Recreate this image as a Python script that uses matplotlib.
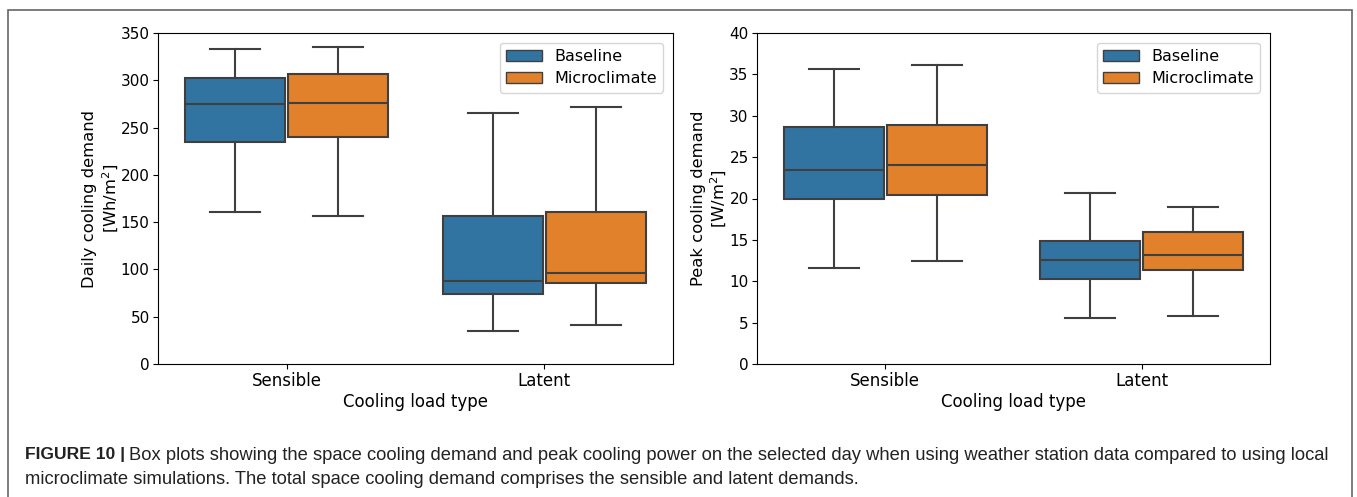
import matplotlib.pyplot as plt
from matplotlib.patches import Rectangle

categories = ["Sensible", "Latent"]
series = ["Baseline", "Microclimate"]
colors = ["#3274a1", "#e1812c"]

# whisker low, Q1, median, Q3, whisker high  (per series, per category)
daily = {
    "Baseline":     [(161, 235, 275, 302, 333), (35, 74, 88, 156, 265)],
    "Microclimate": [(157, 240, 276, 307, 335), (41, 86, 96, 161, 272)],
}
peak = {
    "Baseline":     [(11.6, 20.0, 23.4, 28.6, 35.7), (5.6, 10.3, 12.6, 14.9, 20.7)],
    "Microclimate": [(12.5, 20.4, 24.0, 28.9, 36.1), (5.8, 11.4, 13.2, 16.0, 19.0)],
}

fig = plt.figure(figsize=(13.57, 4.97), dpi=100)
ax1 = fig.add_axes([158 / 1357, 1 - 364 / 497, 515 / 1357, 331 / 497])
ax2 = fig.add_axes([757 / 1357, 1 - 364 / 497, 513 / 1357, 331 / 497])

line_c = "#3f3f3f"


def draw(ax, data, ylim, yticks, ylabel):
    for j, name in enumerate(series):
        stats = []
        for lo, q1, med, q3, hi in data[name]:
            stats.append(dict(whislo=lo, q1=q1, med=med, q3=q3, whishi=hi, fliers=[]))
        pos = [i - 0.2 + 0.4 * j for i in range(len(categories))]
        ax.bxp(stats, positions=pos, widths=0.39, patch_artist=True, showfliers=False,
               boxprops=dict(facecolor=colors[j], edgecolor=line_c, linewidth=1.5),
               medianprops=dict(color=line_c, linewidth=1.5),
               whiskerprops=dict(color=line_c, linewidth=1.5),
               capprops=dict(color=line_c, linewidth=1.5),
               manage_ticks=False)
    ax.set_xlim(-0.5, 1.5)
    ax.set_ylim(*ylim)
    ax.set_yticks(yticks)
    ax.set_xticks(range(len(categories)))
    ax.set_xticklabels(categories, fontsize=12)
    ax.tick_params(axis="y", labelsize=11, pad=2.5)
    ax.tick_params(axis="x", pad=2.5)
    ax.set_xlabel("Cooling load type", fontsize=12, labelpad=2)
    ax.set_ylabel(ylabel, fontsize=11.8, multialignment="center", labelpad=0)
    handles = [Rectangle((0, 0), 1, 1, facecolor=c, edgecolor=line_c) for c in colors]
    ax.legend(handles, series, loc="upper right", fontsize=11.5,
              handlelength=2.2, borderaxespad=0.6, labelspacing=0.45)


draw(ax1, daily, (0, 350), range(0, 351, 50), "Daily cooling demand\n[Wh/m$^2$]")
draw(ax2, peak, (0, 40), range(0, 41, 5), "Peak cooling demand\n[W/m$^2$]")

# outer frame around plot and caption
fig.add_artist(Rectangle((8 / 1357, -0.05), 1344 / 1357, 1.05 - 10 / 497,
                         transform=fig.transFigure, fill=False,
                         edgecolor="#666666", linewidth=1.2))

cap_font = "Liberation Sans"
t = fig.text(25 / 1357, 1 - 455 / 497, "FIGURE 10 |", fontsize=12.6, fontweight="bold",
             family=cap_font, va="center", color="#222222")
fig.canvas.draw()
bb = t.get_window_extent()
x_next = (bb.x1 + 4) / 1357
fig.text(x_next, 1 - 455 / 497,
         "Box plots showing the space cooling demand and peak cooling power on the selected day "
         "when using weather station data compared to using local",
         fontsize=13.2, family=cap_font, va="center", color="#222222")
fig.text(25 / 1357, 1 - 479 / 497,
         "microclimate simulations. The total space cooling demand comprises the sensible and latent demands.",
         fontsize=13.2, family=cap_font, va="center", color="#222222")

fig.savefig("out.png", dpi=100)
